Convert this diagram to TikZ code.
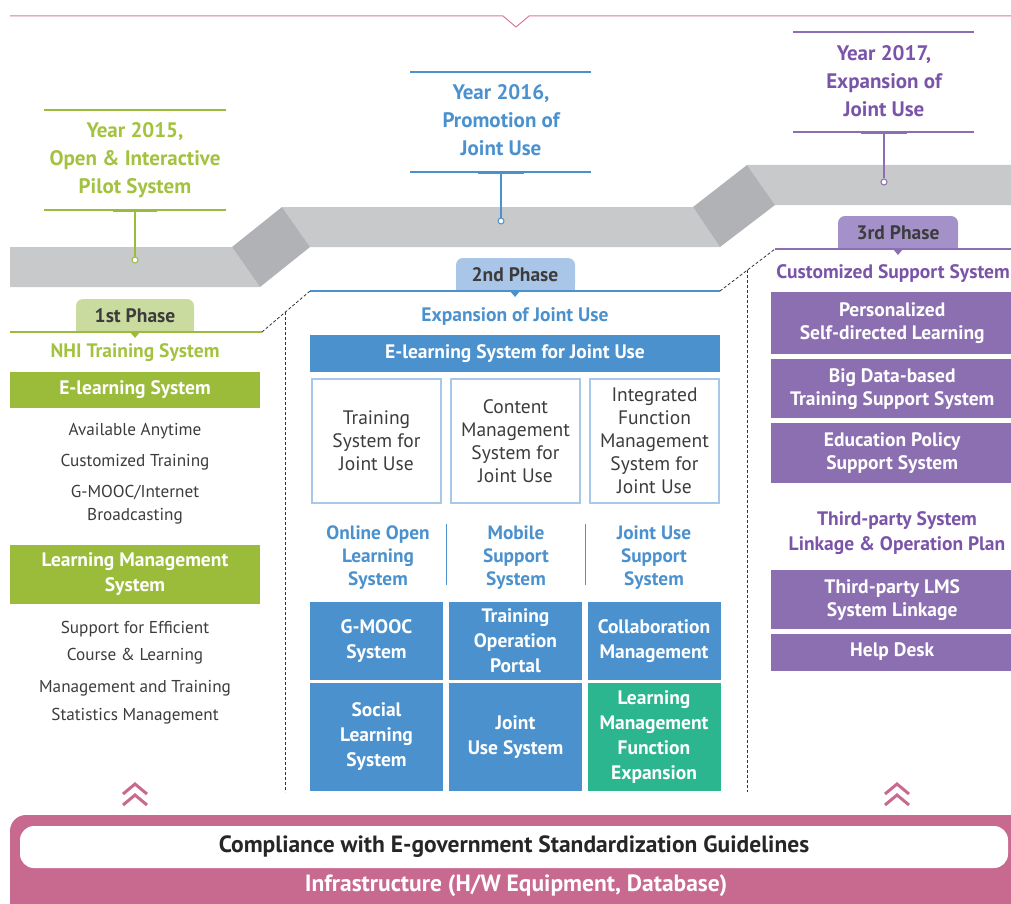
\documentclass[tikz,border=0pt]{standalone}
\usepackage{fontspec}
\setmainfont{PT Sans}
\definecolor{cgreen}{HTML}{9BBB3B}
\definecolor{cgreenT}{HTML}{A3C240}
\definecolor{cgreenL}{HTML}{C9DB9E}
\definecolor{cblue}{HTML}{4B91CE}
\definecolor{cblueL}{HTML}{A9C6E9}
\definecolor{cblueB}{HTML}{A8C8EA}
\definecolor{cpurple}{HTML}{8C6FB0}
\definecolor{cpurpleT}{HTML}{7A54A8}
\definecolor{cpurpleL}{HTML}{A591C9}
\definecolor{cteal}{HTML}{2BB68F}
\definecolor{cpink}{HTML}{C8698F}
\definecolor{cpinkl}{HTML}{D9789E}
\definecolor{croad}{HTML}{C8C9CB}
\definecolor{croadd}{HTML}{B1B2B5}
\definecolor{ctext}{HTML}{3C3C3C}
\newcommand\fsz[2]{\fontsize{#1}{#2}\selectfont}
\begin{document}
\begin{tikzpicture}[x=1pt,y=-1pt,
  yr/.style={align=center,font=\bfseries\fsz{21}{28}},
  phase/.style={font=\bfseries\fsz{19.5}{22},text=ctext},
  sub/.style={font=\bfseries\fsz{19.5}{25},align=center},
  lst/.style={font=\fsz{17.2}{23},text=ctext,align=center},
  fbox/.style={font=\bfseries\fsz{19.5}{25},text=white,align=center,inner sep=0pt},
  gbox/.style={fbox,fill=cgreen},
  bbox/.style={fbox,fill=cblue},
  tbox/.style={fbox,fill=cteal},
  pbox/.style={fbox,fill=cpurple},
  obox/.style={draw=cblueB,line width=2pt,font=\fsz{19.5}{23},text=ctext,align=center,inner sep=0pt},
  dot/.style={circle,draw,fill=white,line width=1pt,minimum size=6pt,inner sep=0pt},
  dline/.style={densely dashed,line width=0.8pt,black!80},
  chev/.style={cpink,line width=3pt}
]
\useasboundingbox (0,0) rectangle (1011,904);
\clip (0,0) rectangle (1011,904);

% top pink line
\draw[cpinkl,line width=1pt] (10,16) -- (503,16) -- (516,27) -- (529,16) -- (1011,16);

% road
\fill[croad] (10,247) -- (232,247) -- (260,287) -- (10,287) -- cycle;
\fill[croad] (282,207) -- (693,207) -- (720,247) -- (310,247) -- cycle;
\fill[croad] (747,165) -- (1020,165) -- (1020,205) -- (775,205) -- cycle;
\fill[croadd] (232,247) -- (282,207) -- (310,247) -- (260,287) -- cycle;
\fill[croadd] (693,207) -- (747,165) -- (775,205) -- (720,247) -- cycle;

% year labels
\node[yr,text=cgreenT] (y15) at (135,160) {Year 2015,\\Open \& Interactive\\Pilot System};
\draw[cgreen,line width=1.2pt] (44,110) -- (226,110) (44,210) -- (226,210);
\draw[cgreen,line width=2.5pt] (113,211) -- (157,211);
\coordinate (s15) at (135,210);
\node[dot,draw=cgreen] (d15) at (135,260) {};
\draw[cgreen,line width=1.2pt] (s15) -- (d15);

\node[yr,text=cblue] (y16) at (501,120) {Year 2016,\\Promotion of\\Joint Use};
\draw[cblue,line width=1.2pt] (410,72) -- (591,72) (410,172) -- (591,172);
\draw[cblue,line width=2.5pt] (478,173) -- (524,173);
\coordinate (s16) at (501,172);
\node[dot,draw=cblue] (d16) at (501,221) {};
\draw[cblue,line width=1.2pt] (s16) -- (d16);

\node[yr,text=cpurpleT] (y17) at (884,81) {Year 2017,\\Expansion of\\Joint Use};
\draw[cpurple,line width=1.2pt] (793,32) -- (974,32) (793,132) -- (974,132);
\draw[cpurple,line width=2.5pt] (861,133) -- (907,133);
\coordinate (s17) at (884,132);
\node[dot,draw=cpurple] (d17) at (884,182) {};
\draw[cpurple,line width=1.2pt] (s17) -- (d17);

% phase tabs
\fill[cgreenL,rounded corners=7pt] (76,299) rectangle (194,332);
\fill[cgreenL] (76,315) rectangle (194,332);
\node[phase] (p1) at (135,316) {1st Phase};
\draw[cgreen,line width=1.2pt] (10,332) -- (262,332);
\fill[cgreen] (130,332) -- (140,332) -- (135,338) -- cycle;

\fill[cblueL,rounded corners=7pt] (456,258) rectangle (575,291);
\fill[cblueL] (456,275) rectangle (575,291);
\node[phase] (p2) at (515,275) {2nd Phase};
\draw[cblue,line width=1.2pt] (310,291) -- (720,291);
\fill[cblue] (510,291) -- (520,291) -- (515,297) -- cycle;

\fill[cpurpleL,rounded corners=7pt] (838,216) rectangle (958,249);
\fill[cpurpleL] (838,232) rectangle (958,249);
\node[phase] (p3) at (898,233) {3rd Phase};
\draw[cpurple,line width=1.2pt] (775,249) -- (1011,249);
\fill[cpurple] (893,249) -- (903,249) -- (898,255) -- cycle;

% dashed separators
\draw[dline] (262,332) -- (310,291);
\draw[dline] (285,312) -- (285,792);
\draw[dline] (720,291) -- (775,249);
\draw[dline] (747,270) -- (747,792);

% column 1
\node[sub,text=cgreenT] (nhi) at (135,353) {NHI Training System};
\node[gbox,minimum width=250pt,minimum height=36pt] (el) at (135,390) {E-learning System};
\node[lst] (l1) at (135,431) {Available Anytime};
\node[lst] (l2) at (135,462) {Customized Training};
\node[lst] (l3) at (135,505) {G-MOOC/Internet\\Broadcasting};
\node[gbox,minimum width=250pt,minimum height=59pt] (lms) at (135,574.5) {Learning Management\\System};
\node[lst] (l4) at (135,629) {Support for Efficient};
\node[lst] (l5) at (135,656) {Course \& Learning};
\node[lst] (l6) at (135,688) {Management and Training};
\node[lst] (l7) at (135,716) {Statistics Management};

% column 2
\node[sub,text=cblue] (exp) at (515,317) {Expansion of Joint Use};
\node[bbox,minimum width=410pt,minimum height=37pt] (ejs) at (515,353.5) {E-learning System for Joint Use};
\node[obox,minimum width=129pt,minimum height=124pt] (o1) at (376.5,441) {Training\\System for\\Joint Use};
\node[obox,minimum width=129pt,minimum height=124pt] (o2) at (515.5,441) {Content\\Management\\System for\\Joint Use};
\node[obox,minimum width=129pt,minimum height=124pt] (o3) at (654.5,441) {Integrated\\Function\\Management\\System for\\Joint Use};
\node[sub,text=cblue,font=\bfseries\fsz{19.3}{23}] (h1) at (378,558) {Online Open\\Learning\\System};
\node[sub,text=cblue,font=\bfseries\fsz{19.3}{23}] (h2) at (516,558) {Mobile\\Support\\System};
\node[sub,text=cblue,font=\bfseries\fsz{19.3}{23}] (h3) at (654,558) {Joint Use\\Support\\System};
\draw[cblue,line width=1pt] (446,524) -- (446,585) (585,524) -- (585,585);
\node[bbox,minimum width=133pt,minimum height=78pt] (g1) at (376.5,641) {G-MOOC\\System};
\node[bbox,minimum width=133pt,minimum height=78pt] (g2) at (515.5,641) {Training\\Operation\\Portal};
\node[bbox,minimum width=133pt,minimum height=78pt] (g3) at (654,641) {Collaboration\\Management};
\node[bbox,minimum width=133pt,minimum height=108pt] (g4) at (376.5,737) {Social\\Learning\\System};
\node[bbox,minimum width=133pt,minimum height=108pt] (g5) at (515.5,737) {Joint\\Use System};
\node[tbox,minimum width=133pt,minimum height=108pt] (g6) at (654,737) {Learning\\Management\\Function\\Expansion};

% column 3
\node[sub,text=cpurpleT,anchor=east,inner xsep=1pt] (css) at (1011,274) {Customized Support System};
\node[pbox,minimum width=250pt,minimum height=62pt,anchor=west] (q1) at (771,323) {\hspace*{-8pt}\makebox[254pt]{\begin{tabular}{@{}c@{}}Personalized\\[-2pt]Self-directed Learning\end{tabular}}};
\node[pbox,minimum width=250pt,minimum height=59pt,anchor=west] (q2) at (771,388.5) {\hspace*{-8pt}\makebox[254pt]{\begin{tabular}{@{}c@{}}Big Data-based\\[-2pt]Training Support System\end{tabular}}};
\node[pbox,minimum width=250pt,minimum height=60pt,anchor=west] (q3) at (771,453) {\hspace*{-8pt}\makebox[254pt]{\begin{tabular}{@{}c@{}}Education Policy\\[-2pt]Support System\end{tabular}}};
\node[sub,text=cpurpleT] (tps) at (897,533) {Third-party System\\Linkage \& Operation Plan};
\node[pbox,minimum width=250pt,minimum height=59pt,anchor=west] (q4) at (771,599.5) {\hspace*{-8pt}\makebox[254pt]{\begin{tabular}{@{}c@{}}Third-party LMS\\[-2pt]System Linkage\end{tabular}}};
\node[pbox,minimum width=250pt,minimum height=37pt,anchor=west] (q5) at (771,652) {\hspace*{-8pt}\makebox[254pt]{Help Desk}};

% chevrons
\draw[chev] (123,794) -- (135,784) -- (147,794) (123,805) -- (135,795) -- (147,805);
\draw[chev] (885,794) -- (897,784) -- (909,794) (885,805) -- (897,795) -- (909,805);

% bottom
\fill[cpink,rounded corners=16pt] (10,815) rectangle (1040,940);
\fill[white,rounded corners=14pt] (20,826) rectangle (1008,868);
\node[font=\bfseries\fsz{23.5}{25},text=black!85] (comp) at (514,847) {Compliance with E-government Standardization Guidelines};
\node[font=\bfseries\fsz{23.5}{25},text=white] (infra) at (516,886) {Infrastructure (H/W Equipment, Database)};
\end{tikzpicture}
\end{document}
